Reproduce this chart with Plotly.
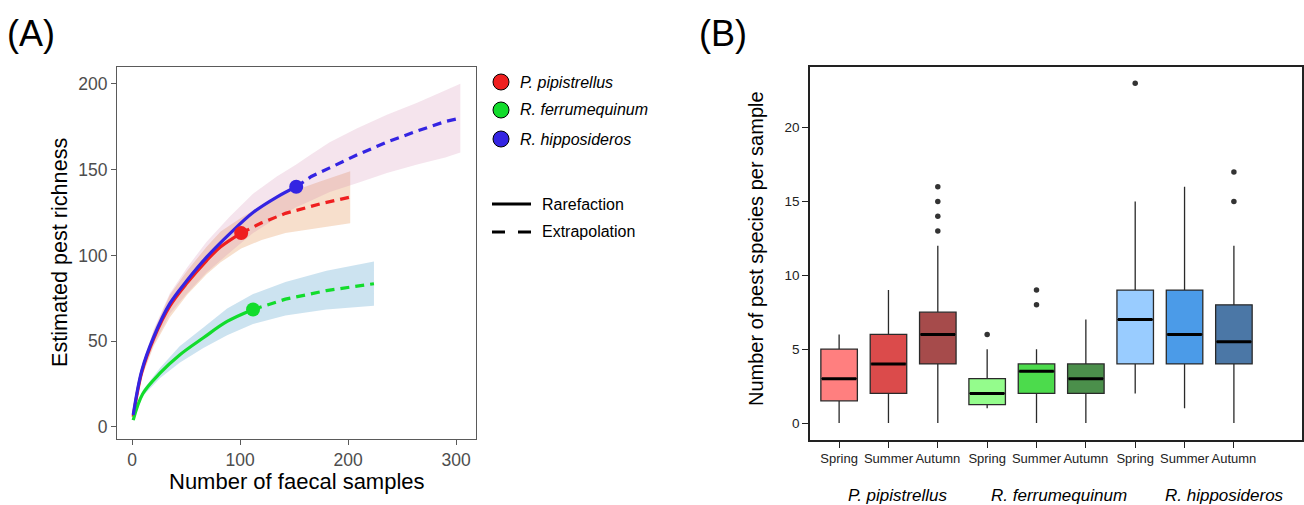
import plotly.graph_objects as go

W, H = 1304, 505
FONT = "Liberation Sans, Arial, sans-serif"

# ---------------- Panel A data ----------------
species = ["P. pipistrellus", "R. ferrumequinum", "R. hipposideros"]
line_colors = ["#EF1F1F", "#12DC2C", "#3424E2"]
band_colors = ["rgba(213,94,0,0.2)", "rgba(0,114,178,0.2)", "rgba(204,121,167,0.2)"]

pip_rare_x = [1, 9, 20, 35, 51, 69, 82, 101]
pip_rare_y = [6, 32, 51.5, 70.5, 84, 97, 105, 113]
pip_ext_x = [101, 120, 142, 174, 202]
pip_ext_y = [113, 119, 124.5, 130, 134]
pip_band_x = [1, 9, 20, 35, 51, 69, 82, 101, 120, 142, 174, 202]
pip_lo = [5, 29, 47, 64, 77, 89, 96, 104, 109, 113, 116, 118.7]
pip_hi = [7, 35, 56, 77, 91, 105, 114, 122, 129, 136, 143, 149]

fer_rare_x = [1, 10, 26, 44, 66, 88, 112]
fer_rare_y = [4, 19.5, 31.5, 42, 52, 61.5, 68.5]
fer_ext_x = [112, 142, 180, 219, 224]
fer_ext_y = [68.5, 74.5, 79.5, 83.3, 83.5]
fer_band_x = [1, 10, 26, 44, 66, 88, 112, 142, 180, 224]
fer_lo = [3.5, 18, 28.5, 37.5, 46, 53.5, 60, 65, 68.5, 70.7]
fer_hi = [4.5, 21.5, 34.5, 47, 58, 69, 77.5, 84.5, 91, 96.5]

hip_rare_x = [1, 9, 20, 35, 51, 69, 91, 112, 134, 152]
hip_rare_y = [7, 33, 52.5, 72, 85.5, 99, 113, 125, 134, 140]
hip_ext_x = [152, 166, 183, 208, 236, 264, 290, 304]
hip_ext_y = [140, 146, 151, 158.5, 166, 172.5, 178, 180]
hip_band_x = [1, 9, 20, 35, 51, 69, 91, 112, 134, 152, 166, 183, 208, 236, 264, 290, 304]
hip_lo = [6, 30, 48, 66, 78, 90, 102, 113, 122, 128, 132, 137, 142, 148, 153, 157, 160]
hip_hi = [8, 36, 57, 78, 93, 108, 123, 136, 146, 153, 159, 166, 174, 182, 189, 196, 200]

obs_x = [101, 112, 152]
obs_y = [113, 68.5, 140]

xticks_a = [0, 100, 200, 300]
yticks_a = [0, 50, 100, 150, 200]

# ---------------- Panel B data ----------------
seasons = ["Spring", "Summer", "Autumn"] * 3
box_pos = [1, 2, 3, 4, 5, 6, 7, 8, 9]
q1 = [1.5, 2, 4, 1.25, 2, 2, 4, 4, 4]
med = [3, 4, 6, 2, 3.5, 3, 7, 6, 5.5]
q3 = [5, 6, 7.5, 3, 4, 4, 9, 9, 8]
lowf = [0, 0, 0, 1, 0, 0, 2, 1, 0]
upf = [6, 9, 12, 5, 5, 7, 15, 16, 12]
box_fill = ["#FF7F7F", "#DB4B4B", "#A64B4B",
            "#94FC8C", "#4CDB4C", "#4B8F4B",
            "#99CCFF", "#4B9BE8", "#4B77A6"]
out_x = [3, 3, 3, 3, 4, 5, 5, 7, 9, 9]
out_y = [13, 14, 15, 16, 6, 8, 9, 23, 15, 17]
yticks_b = [0, 5, 10, 15, 20]
group_labels = ["P. pipistrellus", "R. ferrumequinum", "R. hipposideros"]
group_label_x = [2.19, 5.45, 8.81]

# ---------------- layout geometry ----------------
def px_dom_x(a, b):
    return [a / W, b / W]

def px_dom_y(top, bottom):
    return [1 - bottom / H, 1 - top / H]

fig = go.Figure()

rare = [(pip_rare_x, pip_rare_y), (fer_rare_x, fer_rare_y), (hip_rare_x, hip_rare_y)]
ext = [(pip_ext_x, pip_ext_y), (fer_ext_x, fer_ext_y), (hip_ext_x, hip_ext_y)]
bands = [(pip_band_x, pip_lo, pip_hi), (fer_band_x, fer_lo, fer_hi), (hip_band_x, hip_lo, hip_hi)]

for i in range(3):
    bx, lo, hi = bands[i]
    fig.add_trace(go.Scatter(x=bx + bx[::-1], y=hi + lo[::-1], fill="toself",
                             fillcolor=band_colors[i], line=dict(width=0),
                             mode="lines", hoverinfo="skip", showlegend=False,
                             xaxis="x", yaxis="y"))
for i in range(3):
    ex, ey = ext[i]
    fig.add_trace(go.Scatter(x=ex, y=ey, mode="lines",
                             line=dict(color=line_colors[i], width=3.2, dash="9px,6px"),
                             showlegend=False, xaxis="x", yaxis="y"))
for i in range(3):
    rx, ry = rare[i]
    fig.add_trace(go.Scatter(x=rx, y=ry, mode="lines", line_shape="spline",
                             line=dict(color=line_colors[i], width=3.2),
                             showlegend=False, xaxis="x", yaxis="y"))
for i in range(3):
    fig.add_trace(go.Scatter(x=[obs_x[i]], y=[obs_y[i]], mode="markers",
                             marker=dict(color=line_colors[i], size=14),
                             showlegend=False, xaxis="x", yaxis="y"))

# ---------------- Panel B traces ----------------
BW = 0.74
for i in range(9):
    fig.add_trace(go.Box(x=[box_pos[i]], q1=[q1[i]], median=[med[i]], q3=[q3[i]],
                         lowerfence=[lowf[i]], upperfence=[upf[i]],
                         width=BW, whiskerwidth=0, fillcolor=box_fill[i],
                         line=dict(color="#2A2A2A", width=1.3), boxpoints=False,
                         showlegend=False, xaxis="x2", yaxis="y2"))
for i in range(9):
    fig.add_trace(go.Scatter(x=[box_pos[i] - BW / 2 + 0.02, box_pos[i] + BW / 2 - 0.02],
                             y=[med[i], med[i]], mode="lines",
                             line=dict(color="black", width=3), showlegend=False,
                             hoverinfo="skip", xaxis="x2", yaxis="y2"))
fig.add_trace(go.Scatter(x=out_x, y=out_y, mode="markers",
                         marker=dict(color="#333333", size=5.5), showlegend=False,
                         xaxis="x2", yaxis="y2"))

# ---------------- annotations & shapes ----------------
ann = []
shapes = []
ann.append(dict(text="(A)", x=5 / W, y=1 - 33 / H, xref="paper", yref="paper",
                xanchor="left", yanchor="middle", showarrow=False,
                font=dict(size=36, color="black", family=FONT)))
ann.append(dict(text="(B)", x=697 / W, y=1 - 33 / H, xref="paper", yref="paper",
                xanchor="left", yanchor="middle", showarrow=False,
                font=dict(size=36, color="black", family=FONT)))
ann.append(dict(text="Estimated pest richness", x=59 / W, y=1 - 253 / H, xref="paper",
                yref="paper", textangle=-90, showarrow=False, xanchor="center", yanchor="middle",
                font=dict(size=21.6, color="black", family=FONT)))
ann.append(dict(text="Number of faecal samples", x=297 / W, y=1 - 481 / H, xref="paper",
                yref="paper", showarrow=False, xanchor="center", yanchor="middle",
                font=dict(size=22, color="black", family=FONT)))
ann.append(dict(text="Number of pest species per sample", x=756 / W, y=1 - 249 / H,
                xref="paper", yref="paper", textangle=-90, showarrow=False,
                xanchor="center", yanchor="middle",
                font=dict(size=20, color="black", family=FONT)))
for lab, gx in zip(group_labels, group_label_x):
    ann.append(dict(text="<i>" + lab + "</i>", x=gx, y=1 - 495 / H, xref="x2", yref="paper",
                    showarrow=False, xanchor="center", yanchor="middle",
                    font=dict(size=17, color="black", family=FONT)))

# manual legend for panel A
leg_y = [82, 110, 139]
for i in range(3):
    cy = 1 - leg_y[i] / H
    shapes.append(dict(type="circle", xref="paper", yref="paper",
                       xsizemode="pixel", ysizemode="pixel",
                       xanchor=501 / W, yanchor=cy, x0=-8, x1=8, y0=-8, y1=8,
                       fillcolor=line_colors[i], line=dict(color="black", width=1)))
    ann.append(dict(text="<i>" + species[i] + "</i>", x=518 / W, y=cy, xref="paper",
                    yref="paper", showarrow=False, xanchor="left", yanchor="middle",
                    font=dict(size=16, color="black", family=FONT)))
for lbl, yy, dash in [("Rarefaction", 204, "solid"), ("Extrapolation", 232, "dash")]:
    cy = 1 - yy / H
    if dash == "solid":
        shapes.append(dict(type="line", xref="paper", yref="paper", x0=492 / W, x1=531 / W,
                           y0=cy, y1=cy, line=dict(color="black", width=3)))
    else:
        shapes.append(dict(type="line", xref="paper", yref="paper", x0=492 / W, x1=505 / W,
                           y0=cy, y1=cy, line=dict(color="black", width=3)))
        shapes.append(dict(type="line", xref="paper", yref="paper", x0=518 / W, x1=531 / W,
                           y0=cy, y1=cy, line=dict(color="black", width=3)))
    ann.append(dict(text=lbl, x=540 / W, y=cy, xref="paper", yref="paper", showarrow=False,
                    xanchor="left", yanchor="middle",
                    font=dict(size=16, color="black", family=FONT)))

fig.update_layout(
    width=W, height=H, margin=dict(l=0, r=0, t=0, b=0),
    paper_bgcolor="white", plot_bgcolor="white", showlegend=False,
    font=dict(family=FONT),
    xaxis=dict(domain=px_dom_x(117, 476), range=[-14, 318.5], tickvals=xticks_a,
               showgrid=False, zeroline=False, showline=True, mirror=True,
               linecolor="#5A5A5A", linewidth=1.2, ticks="outside", ticklen=5,
               tickcolor="#5A5A5A", tickfont=dict(size=17.5, color="#4D4D4D"), anchor="y"),
    yaxis=dict(domain=px_dom_y(67, 439), range=[-7, 209.8], tickvals=yticks_a,
               showgrid=False, zeroline=False, showline=True, mirror=True,
               linecolor="#5A5A5A", linewidth=1.2, ticks="outside", ticklen=5,
               tickcolor="#5A5A5A", tickfont=dict(size=17.5, color="#4D4D4D"), anchor="x"),
    xaxis2=dict(domain=px_dom_x(810, 1302), range=[0.41, 10.38], tickvals=box_pos,
                ticktext=seasons, tickangle=0, showgrid=False, zeroline=False, showline=True,
                mirror=True, linecolor="#222222", linewidth=1.5, ticks="outside", ticklen=6,
                tickcolor="#222222", tickfont=dict(size=13, color="#222222"), anchor="y2"),
    yaxis2=dict(domain=px_dom_y(67, 440), range=[-1.15, 24.1], tickvals=yticks_b,
                showgrid=False, zeroline=False, showline=True, mirror=True,
                linecolor="#222222", linewidth=1.5, ticks="outside", ticklen=6,
                tickcolor="#222222", tickfont=dict(size=13.5, color="#222222"), anchor="x2"),
    annotations=ann, shapes=shapes,
)

fig.write_html("out.html", config={"displayModeBar": False},
               post_script="document.body.style.margin='0px';document.body.style.overflow='hidden';")
